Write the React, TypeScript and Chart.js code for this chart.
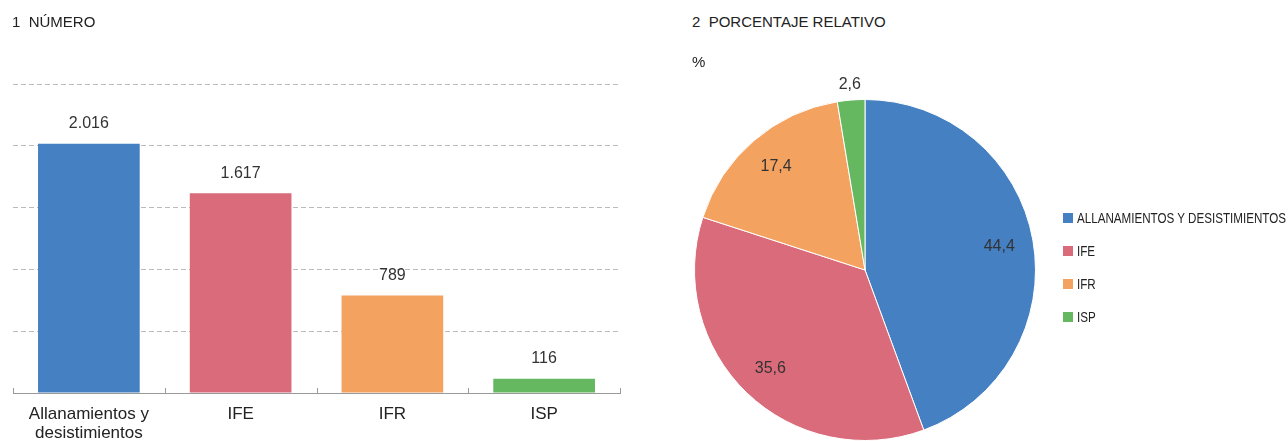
import React, { useEffect, useRef } from "react";
import { Chart, registerables } from "chart.js";

Chart.register(...registerables);

const barCategories = [["Allanamientos y", "desistimientos"], "IFE", "IFR", "ISP"];
const counts = [2016, 1617, 789, 116];
const yTicks = [0, 500, 1000, 1500, 2000, 2500];
const pieCategories = ["ALLANAMIENTOS Y DESISTIMIENTOS", "IFE", "IFR", "ISP"];
const percents = [44.4, 35.6, 17.4, 2.6];
const colors = ["#4480C2", "#DA6B7A", "#F4A260", "#65B760"];

const FONT = '"Liberation Sans", Arial, sans-serif';

const fmtThousands = (n: number) => String(n).replace(/\B(?=(\d{3})+(?!\d))/g, ".");
const fmtPct = (n: number) => n.toFixed(1).replace(".", ",");

const barValuePlugin = {
  id: "barValues",
  afterDatasetsDraw(chart: any) {
    const ctx = chart.ctx;
    const meta = chart.getDatasetMeta(0);
    ctx.save();
    ctx.font = `16px ${FONT}`;
    ctx.fillStyle = "#333";
    ctx.textAlign = "center";
    ctx.textBaseline = "middle";
    meta.data.forEach((el: any, i: number) => {
      ctx.fillText(fmtThousands(counts[i]), el.x, el.y - 20);
    });
    ctx.restore();
  },
};

const xTickPlugin = {
  id: "xInnerTicks",
  afterDraw(chart: any) {
    const s = chart.scales.x;
    const ctx = chart.ctx;
    const n = chart.data.labels.length;
    const step = (s.right - s.left) / n;
    const b = chart.chartArea.bottom;
    ctx.save();
    ctx.strokeStyle = "#999";
    ctx.lineWidth = 1;
    for (let i = 0; i <= n; i++) {
      const x = Math.round(s.left + i * step) + 0.5;
      ctx.beginPath();
      ctx.moveTo(x, b - 5);
      ctx.lineTo(x, b);
      ctx.stroke();
    }
    ctx.restore();
  },
};

const pieLabelPlugin = {
  id: "pieLabels",
  afterDatasetsDraw(chart: any) {
    const ctx = chart.ctx;
    const meta = chart.getDatasetMeta(0);
    ctx.save();
    ctx.font = `16px ${FONT}`;
    ctx.fillStyle = "#333";
    ctx.textAlign = "center";
    ctx.textBaseline = "middle";
    meta.data.forEach((arc: any, i: number) => {
      const p = arc.getProps(["x", "y", "startAngle", "endAngle", "outerRadius"], true);
      const mid = (p.startAngle + p.endAngle) / 2;
      const r = percents[i] < 5 ? p.outerRadius * 1.09 : p.outerRadius * 0.8;
      ctx.fillText(fmtPct(percents[i]), p.x + Math.cos(mid) * r, p.y + Math.sin(mid) * r);
    });
    ctx.restore();
  },
};

export default function App() {
  const barRef = useRef<HTMLCanvasElement>(null);
  const pieRef = useRef<HTMLCanvasElement>(null);

  useEffect(() => {
    const bar = new Chart(barRef.current as HTMLCanvasElement, {
      type: "bar",
      data: {
        labels: barCategories as any,
        datasets: [
          {
            data: counts,
            backgroundColor: colors,
            barPercentage: 0.67,
            categoryPercentage: 1,
          },
        ],
      },
      options: {
        animation: false,
        responsive: false,
        maintainAspectRatio: false,
        layout: { padding: { left: 13, right: 20, top: 84, bottom: 0 } },
        plugins: { legend: { display: false }, tooltip: { enabled: false } },
        scales: {
          x: {
            grid: { display: false, drawTicks: false },
            border: { display: true, color: "#999", width: 1 },
            ticks: {
              color: "#222",
              font: { size: 17, family: FONT, lineHeight: 1.12 },
              padding: 12,
              maxRotation: 0,
              autoSkip: false,
            },
            afterFit: (s: any) => {
              s.height = 48;
            },
          },
          y: {
            min: 0,
            max: 2500,
            afterBuildTicks: (s: any) => {
              s.ticks = yTicks.map((v) => ({ value: v }));
            },
            grid: { color: "#bbb", drawTicks: false },
            border: { display: false, dash: [5, 3] },
            ticks: { display: false },
          },
        },
      } as any,
      plugins: [barValuePlugin, xTickPlugin],
    });

    const pie = new Chart(pieRef.current as HTMLCanvasElement, {
      type: "pie",
      data: {
        labels: pieCategories,
        datasets: [
          {
            data: percents,
            backgroundColor: colors,
            borderColor: "#fff",
            borderWidth: 1,
          },
        ],
      },
      options: {
        animation: false,
        responsive: false,
        maintainAspectRatio: false,
        layout: { padding: { top: 29, bottom: 29, left: 54, right: 54 } },
        plugins: { legend: { display: false }, tooltip: { enabled: false } },
      } as any,
      plugins: [pieLabelPlugin],
    });

    return () => {
      bar.destroy();
      pie.destroy();
    };
  }, []);

  const title: React.CSSProperties = {
    position: "absolute",
    fontFamily: FONT,
    fontSize: 15,
    lineHeight: "18px",
    color: "#222",
    whiteSpace: "pre",
  };

  const legendTops = [218, 251, 284, 317];

  return (
    <div
      style={{
        position: "absolute",
        left: 0,
        top: 0,
        width: 1288,
        height: 441,
        overflow: "hidden",
        background: "#fff",
      }}
    >
      <canvas
        ref={barRef}
        width={640}
        height={441}
        style={{ position: "absolute", left: 0, top: 0, width: 640, height: 441 }}
      />
      <canvas
        ref={pieRef}
        width={450}
        height={400}
        style={{ position: "absolute", left: 640, top: 70, width: 450, height: 400 }}
      />
      <div style={{ ...title, left: 12, top: 13 }}>1  NÚMERO</div>
      <div style={{ ...title, left: 692, top: 13 }}>2  PORCENTAJE RELATIVO</div>
      <div style={{ ...title, left: 692, top: 53 }}>%</div>
      {pieCategories.map((c, i) => (
        <div
          key={c}
          style={{
            position: "absolute",
            left: 1063,
            top: legendTops[i] - 9,
            height: 18,
            display: "flex",
            alignItems: "center",
            whiteSpace: "nowrap",
          }}
        >
          <span
            style={{
              display: "inline-block",
              width: 10,
              height: 10,
              background: colors[i],
              marginRight: 4,
            }}
          />
          <span
            style={{
              display: "inline-block",
              fontFamily: FONT,
              fontSize: 14,
              lineHeight: "18px",
              color: "#222",
              transform: "scaleX(0.83)",
              transformOrigin: "left center",
            }}
          >
            {c}
          </span>
        </div>
      ))}
    </div>
  );
}
